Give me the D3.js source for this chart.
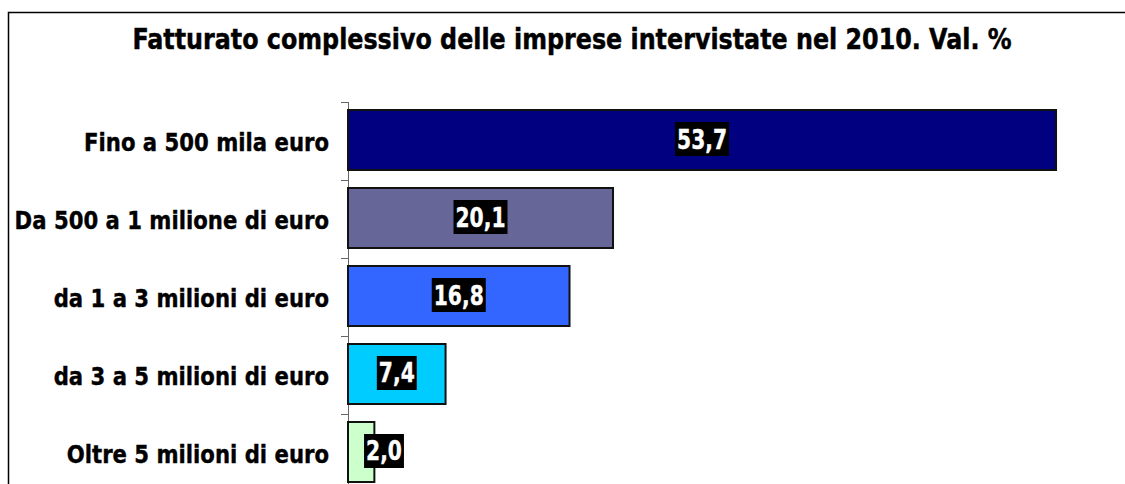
<!DOCTYPE html>
<html>
<head>
<meta charset="utf-8">
<script src="https://cdn.jsdelivr.net/npm/d3@7"></script>
<style>
  html, body { margin: 0; padding: 0; background: #fff; }
  svg { display: block; }
  text { font-family: "DejaVu Sans", Verdana, sans-serif; font-weight: bold; }
</style>
</head>
<body>
<svg id="chart" width="1125" height="484"></svg>
<script>
// Fatturato complessivo 2010 – quote percentuali per classe di fatturato
const categories = [
  "Fino a 500 mila euro",
  "Da 500 a 1 milione di euro",
  "da 1 a 3 milioni di euro",
  "da 3 a 5 milioni di euro",
  "Oltre 5 milioni di euro"
];
const values = [53.7, 20.1, 16.8, 7.4, 2.0];
const barColors = ["#000080", "#666699", "#3366FF", "#00CCFF", "#CCFFCC"];
const titleText = "Fatturato complessivo delle imprese intervistate nel 2010. Val. %";

const fmt = v => d3.format(".1f")(v).replace(".", ",");

const W = 1125, H = 484;
const svg = d3.select("#chart");

// outer frame (open on the right and bottom)
svg.append("path")
  .attr("d", `M8.5,${H} L8.5,12.5 L${W},12.5`)
  .attr("fill", "none")
  .attr("stroke", "#000")
  .attr("stroke-width", 1.5);

// horizontal scaling helper: fit a text element to a target width
function fitWidth(sel, target) {
  const len = sel.node().getComputedTextLength();
  return target / len;
}

// title
const title = svg.append("text")
  .attr("font-size", 29)
  .attr("text-anchor", "middle")
  .attr("fill", "#000")
  .attr("stroke", "#000")
  .attr("stroke-width", 0.5)
  .text(titleText);
const titleSx = fitWidth(title, 880);
title.attr("transform", `translate(572,49) scale(${titleSx},1)`);

// scales
const x = d3.scaleLinear().domain([0, 60]).range([348, 348 + 60 * 13.185]);
const yTick = d3.scaleBand().domain(categories).range([102, 492]).padding(0);
const yBar = d3.scaleBand().domain(categories).range([102, 490])
  .paddingInner(0.2308).paddingOuter(0.1026);

// category axis
const axis = svg.append("g").attr("class", "axis");
axis.append("line")
  .attr("x1", x(0) + 0.5).attr("x2", x(0) + 0.5)
  .attr("y1", yTick.range()[0]).attr("y2", H)
  .attr("stroke", "#666").attr("stroke-width", 1);
axis.selectAll("line.tick")
  .data(categories)
  .join("line")
  .attr("class", "tick")
  .attr("x1", x(0) - 7).attr("x2", x(0))
  .attr("y1", d => yTick(d) + 0.5).attr("y2", d => yTick(d) + 0.5)
  .attr("stroke", "#666").attr("stroke-width", 1);

// category labels
const catLabels = axis.selectAll("text.cat")
  .data(categories)
  .join("text")
  .attr("class", "cat")
  .attr("font-size", 24.5)
  .attr("text-anchor", "end")
  .attr("fill", "#000")
  .attr("stroke", "#000")
  .attr("stroke-width", 0.4)
  .text(d => d);
const catSx = fitWidth(d3.select(catLabels.nodes()[0]), 245);
catLabels.attr("transform", d =>
  `translate(329,${yTick(d) + yTick.bandwidth() / 2 + 9.5}) scale(${catSx},1)`);

// bars
const data = categories.map((c, i) => ({ cat: c, value: values[i], color: barColors[i] }));

svg.append("g").selectAll("rect")
  .data(data)
  .join("rect")
  .attr("x", x(0))
  .attr("y", d => yBar(d.cat))
  .attr("width", d => x(d.value) - x(0))
  .attr("height", yBar.bandwidth())
  .attr("fill", d => d.color)
  .attr("stroke", "#111")
  .attr("stroke-width", 2);

// value labels: white text on black box
const lblG = svg.append("g").selectAll("g")
  .data(data)
  .join("g");

const valTexts = lblG.append("text")
  .attr("font-size", 26)
  .attr("fill", "#fff")
  .attr("stroke", "#fff")
  .attr("stroke-width", 0.4)
  .attr("text-anchor", "middle")
  .text(d => fmt(d.value));
const valSx = fitWidth(d3.select(valTexts.nodes()[0]), 50);

lblG.each(function(d) {
  const g = d3.select(this);
  const t = g.select("text");
  const w = t.node().getComputedTextLength() * valSx + 4;
  const cx = Math.max((x(0) + x(d.value)) / 2, x(0) + 36);
  const cy = yBar(d.cat) + yBar.bandwidth() / 2 - 1;
  g.insert("rect", "text")
    .attr("x", cx - w / 2)
    .attr("y", cy - 17)
    .attr("width", w)
    .attr("height", 34)
    .attr("fill", "#000");
  t.attr("transform", `translate(${cx},${cy + 9.5}) scale(${valSx},1)`);
});
</script>
</body>
</html>
